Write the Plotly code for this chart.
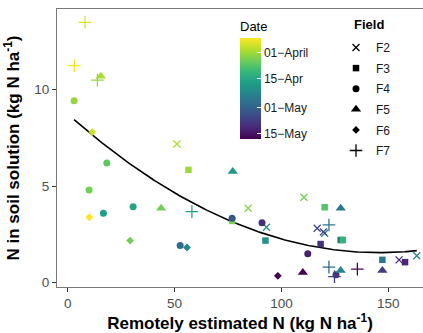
import numpy as np
import pandas as pd
import plotly.graph_objects as go

YEAR = "2019"
REF = pd.Timestamp(f"{YEAR}-04-01")

# ---- data (x = remotely estimated N, y = N in soil solution, date of sampling) ----
f2_x = [51.1, 84.4, 110.5, 93.0, 116.7, 120.2, 119.6, 155.0, 163.3]
f2_y = [7.18, 3.85, 4.42, 2.86, 2.81, 2.55, 2.62, 1.17, 1.38]
f2_d = ["03-31", "04-03", "04-05", "04-19", "05-06", "04-23", "05-08", "05-12", "04-23"]

f3_x = [56.5, 76.9, 92.5, 120.2, 127.7, 128.7, 118.3, 147.2, 157.8]
f3_y = [5.84, 3.19, 2.17, 3.90, 2.20, 2.20, 1.99, 1.17, 1.05]
f3_d = ["04-01", "04-04", "04-20", "04-08", "04-28", "04-12", "05-10", "04-26", "05-12"]

f4_x = [3.0, 18.3, 10.0, 16.7, 30.6, 52.6, 76.9, 90.9, 112.3, 125.5]
f4_y = [9.43, 6.19, 4.80, 3.59, 3.93, 1.91, 3.33, 3.10, 1.48, 0.40]
f4_d = ["04-02", "04-07", "04-05", "04-17", "04-16", "04-29", "05-04", "05-11", "05-13", "05-11"]

f5_x = [15.5, 43.7, 77.2, 127.7, 110.0, 127.7, 147.2]
f5_y = [10.70, 3.85, 5.75, 3.85, 0.51, 0.61, 0.61]
f5_d = ["03-31", "04-05", "04-19", "04-26", "05-18", "04-23", "05-08"]

f6_x = [11.5, 10.1, 29.2, 55.8, 98.3]
f6_y = [7.80, 3.38, 2.17, 1.81, 0.34]
f6_d = ["03-28", "03-24", "04-05", "04-23", "05-18"]

f7_x = [8.1, 3.1, 13.9, 58.1, 122.2, 122.2, 124.8, 135.5]
f7_y = [13.50, 11.25, 10.50, 3.67, 2.98, 0.79, 0.30, 0.69]
f7_d = ["03-27", "03-24", "04-02", "04-16", "04-26", "04-29", "05-08", "05-17"]

fields = ["F2", "F3", "F4", "F5", "F6", "F7"]
field_x = [f2_x, f3_x, f4_x, f5_x, f6_x, f7_x]
field_y = [f2_y, f3_y, f4_y, f5_y, f6_y, f7_y]
field_d = [f2_d, f3_d, f4_d, f5_d, f6_d, f7_d]

date_tick_dates = ["04-01", "04-15", "05-01", "05-15"]
date_tick_text = ["01\u2212April", "15\u2212Apr", "01\u2212May", "15\u2212May"]

x_ticks = [0, 50, 100, 150]
y_ticks = [0, 5, 10]

# ---- styling ----
symbols = ["x-thin-open", "square", "circle", "triangle-up", "diamond", "cross-thin-open"]
sizes = [7, 6.5, 7, 9, 6, 9]
leg_sizes = [7, 6.5, 7, 9, 6, 9]
FONT = "Liberation Sans, Arial, sans-serif"


def cval(md):
    # negative day offset so earliest date sits at top of colour bar
    return -(pd.Timestamp(f"{YEAR}-{md}") - REF).days


all_d = [d for ds in field_d for d in ds]
vals = [cval(d) for d in all_d]
cmin, cmax = min(vals), max(vals)

fig = go.Figure()

# quadratic smooth through all points
ax = np.array([v for xs in field_x for v in xs])
ay = np.array([v for ys in field_y for v in ys])
coef = np.polyfit(ax, ay, 2)
xs_fit = np.linspace(ax.min(), ax.max(), 200)
fig.add_trace(go.Scatter(x=xs_fit, y=np.polyval(coef, xs_fit), mode="lines",
                         line=dict(color="black", width=1.6), showlegend=False,
                         hoverinfo="skip"))

for name, xs, ys, ds, sym, sz in zip(fields, field_x, field_y, field_d, symbols, sizes):
    open_sym = sym.endswith("open")
    fig.add_trace(go.Scatter(
        x=xs, y=ys, mode="markers", showlegend=False,
        marker=dict(symbol=sym, size=sz, color=[cval(d) for d in ds], coloraxis="coloraxis",
                    line=dict(width=1.3 if open_sym else 0)),
    ))

# legend entries (black)
for name, sym, sz in zip(fields, symbols, leg_sizes):
    open_sym = sym.endswith("open")
    fig.add_trace(go.Scatter(
        x=[None], y=[None], mode="markers", name=name, legendgroup=name,
        marker=dict(symbol=sym, size=sz, color="black",
                    line=dict(width=1.3 if open_sym else 0, color="black")),
    ))

W, H = 423, 333
ml, mr, mt, mb = 57, 0, 9, 46
pw = W - ml - mr
ph = H - mt - mb


def px_x(p):
    return (p - ml) / pw


def px_y(p):
    return 1 - (p - mt) / ph


cb_top_px = 18
cb_len = 121
cb_bar_top = 38
cb_bar_len = 101

tickvals = [cval(d) for d in date_tick_dates]

fig.update_layout(
    width=W, height=H,
    margin=dict(l=ml, r=mr, t=mt, b=mb),
    paper_bgcolor="white", plot_bgcolor="white",
    font=dict(family=FONT, color="black"),
    coloraxis=dict(
        colorscale="Viridis", cmin=cmin, cmax=cmax,
        colorbar=dict(
            x=px_x(240), xanchor="left", xpad=0,
            y=px_y(cb_top_px), yanchor="top", ypad=0,
            len=cb_len, lenmode="pixels", thickness=21, thicknessmode="pixels",
            outlinewidth=0, ticks="inside", ticklen=4, tickcolor="white", tickwidth=1,
            tickvals=tickvals, ticktext=date_tick_text,
            tickfont=dict(size=12, color="#1a1a1a", family=FONT),
            title=dict(text="Date", side="top", font=dict(size=13, family=FONT)),
        ),
    ),
    legend=dict(
        x=px_x(336), xanchor="left", y=px_y(33), yanchor="top",
        bgcolor="rgba(0,0,0,0)", font=dict(size=12, color="#1a1a1a", family=FONT),
        tracegroupgap=1.6, itemwidth=30,
    ),
    xaxis=dict(
        range=[-5.0, 166.2], tickvals=x_ticks, ticks="outside", ticklen=4,
        tickcolor="#333333", tickfont=dict(size=13.5, color="#4d4d4d"),
        showgrid=False, zeroline=False, showline=True, linecolor="#7a7a7a",
        linewidth=1, mirror=True,
        title=dict(text="<b>Remotely estimated N (kg N ha<sup>-1</sup>)</b>",
                   font=dict(size=17), standoff=1),
    ),
    yaxis=dict(
        range=[-0.24, 14.19], tickvals=y_ticks, ticks="outside", ticklen=4,
        tickcolor="#333333", tickfont=dict(size=13.5, color="#4d4d4d"),
        showgrid=False, zeroline=False, showline=True, linecolor="#7a7a7a",
        linewidth=1, mirror=False,
        title=dict(text="<b>N in soil solution (kg N ha<sup>-1</sup>)</b>",
                   font=dict(size=17), standoff=10),
    ),
    annotations=[dict(text="<b>Field</b>", xref="paper", yref="paper",
                      x=px_x(352), y=px_y(24), xanchor="left", yanchor="middle",
                      showarrow=False, font=dict(size=13, family=FONT, color="black"))],
)

# white ticks on left edge of colour bar
for tv in tickvals:
    frac = (cmax - tv) / (cmax - cmin)
    ypx = cb_bar_top + frac * cb_bar_len
    fig.add_shape(type="line", xref="paper", yref="paper",
                  x0=px_x(240), x1=px_x(244), y0=px_y(ypx), y1=px_y(ypx),
                  line=dict(color="white", width=1))

fig.write_html("out.html", post_script="document.body.style.margin='0';",
               config={"displayModeBar": False})
